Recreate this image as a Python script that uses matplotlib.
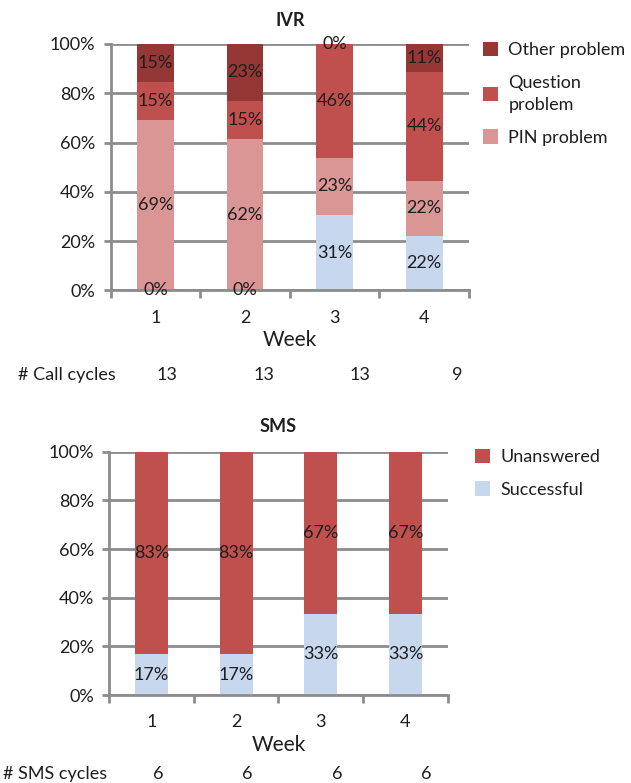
import matplotlib.pyplot as plt
import numpy as np

plt.rcParams['font.family'] = ['Lato', 'DejaVu Sans']

weeks = ['1', '2', '3', '4']

# IVR outcome shares per week (%)
ivr_success = [0.0, 0.0, 30.8, 22.2]
ivr_pin = [69.2, 61.5, 23.1, 22.2]
ivr_question = [15.4, 15.4, 46.2, 44.4]
ivr_other = [15.4, 23.1, 0.0, 11.1]
ivr_cycles = ['13', '13', '13', '9']

# SMS outcome shares per week (%)
sms_success = [16.7, 16.7, 33.3, 33.3]
sms_unanswered = [83.3, 83.3, 66.7, 66.7]
sms_cycles = ['6', '6', '6', '6']

C_SUCCESS = '#c6d7ee'
C_PIN = '#d99694'
C_QUESTION = '#c0504d'
C_OTHER = '#953735'
C_UNANSWERED = '#c0504d'
GRID = '#8c8c8c'
TXT = '#1e1e1e'
FS = 13

W, H = 631, 783
fig = plt.figure(figsize=(W / 100, H / 100), dpi=100)


def px_axes(x0, y0, x1, y1):
    return fig.add_axes([x0 / W, 1 - y1 / H, (x1 - x0) / W, (y1 - y0) / H])


def style_axes(ax):
    x = np.arange(len(weeks))
    ax.set_xlim(-0.5, len(weeks) - 0.5)
    ax.set_ylim(0, 100)
    ax.set_yticks(np.arange(0, 101, 20))
    ax.set_yticklabels([f'{v}%' for v in range(0, 101, 20)])
    ax.set_xticks(x)
    ax.set_xticklabels(weeks)
    ax.set_xticks(np.arange(-0.5, len(weeks)), minor=True)
    ax.tick_params(axis='x', which='major', length=0, pad=14, labelsize=FS, labelcolor=TXT)
    ax.tick_params(axis='x', which='minor', length=6, width=2, color=GRID, direction='out')
    ax.tick_params(axis='y', length=5, width=2, color=GRID, pad=6, labelsize=FS, labelcolor=TXT)
    ax.yaxis.grid(True, color=GRID, lw=2)
    ax.set_axisbelow(True)
    for s in ['top', 'right']:
        ax.spines[s].set_visible(False)
    for s in ['left', 'bottom']:
        ax.spines[s].set_color(GRID)
        ax.spines[s].set_linewidth(2)
    ax.set_xlabel('Week', fontsize=15, color=TXT, labelpad=3)


def stack(ax, series, width):
    x = np.arange(len(weeks))
    bottom = np.zeros(len(weeks))
    bars = []
    for vals, color, label in series:
        vals = np.array(vals)
        b = ax.bar(x, vals, width, bottom=bottom, color=color, label=label, zorder=2)
        # value labels centred in each segment, zero-height ones included
        for xi, v, b0 in zip(x, vals, bottom):
            ax.text(xi, b0 + v / 2, f'{v:.0f}%', ha='center', va='center',
                    fontsize=FS, color=TXT, clip_on=False, zorder=4)
        bottom += vals
        bars.append(b)
    return bars


# IVR chart
ax1 = px_axes(110.7, 44, 469, 290.5)
style_axes(ax1)
b1 = stack(ax1, [(ivr_success, C_SUCCESS, 'Successful'),
                 (ivr_pin, C_PIN, 'PIN problem'),
                 (ivr_question, C_QUESTION, 'Question\nproblem'),
                 (ivr_other, C_OTHER, 'Other problem')], 0.41)
ax1.set_title('IVR', fontsize=FS, fontweight='bold', color=TXT, pad=13)
leg1 = ax1.legend([b1[3], b1[2], b1[1]], ['Other problem', 'Question\nproblem', 'PIN problem'],
                  loc='upper left', bbox_to_anchor=(483 / W, 1 - 42 / H),
                  bbox_transform=fig.transFigure,
                  frameon=False, fontsize=FS, handlelength=0.85, handleheight=0.85,
                  handletextpad=0.55, labelspacing=0.9, borderpad=0, borderaxespad=0,
                  labelcolor=TXT)
for t in leg1.get_texts():
    t.set_linespacing(1.5)

# SMS chart
ax2 = px_axes(109.3, 451.7, 447.7, 695)
style_axes(ax2)
b2 = stack(ax2, [(sms_success, C_SUCCESS, 'Successful'),
                 (sms_unanswered, C_UNANSWERED, 'Unanswered')], 0.39)
ax2.set_title('SMS', fontsize=FS, fontweight='bold', color=TXT, pad=14)
ax2.legend([b2[1], b2[0]], ['Unanswered', 'Successful'],
           loc='upper left', bbox_to_anchor=(475 / W, 1 - 449 / H), bbox_transform=fig.transFigure,
           frameon=False, fontsize=FS, handlelength=0.85, handleheight=0.85,
           handletextpad=0.55, labelspacing=0.88, borderpad=0, borderaxespad=0,
           labelcolor=TXT)

# cycle counts under each chart
fig.text(18 / W, 1 - 375 / H, '# Call cycles', fontsize=FS, color=TXT, va='center')
for xp, n in zip([166.7, 263.5, 360, 457], ivr_cycles):
    fig.text(xp / W, 1 - 375 / H, n, fontsize=FS, color=TXT, va='center', ha='center')

fig.text(3 / W, 1 - 774 / H, '# SMS cycles', fontsize=FS, color=TXT, va='center')
for xp, n in zip([158, 247.5, 337, 426.7], sms_cycles):
    fig.text(xp / W, 1 - 774 / H, n, fontsize=FS, color=TXT, va='center', ha='center')

fig.savefig('out.png', dpi=100, facecolor='white')
